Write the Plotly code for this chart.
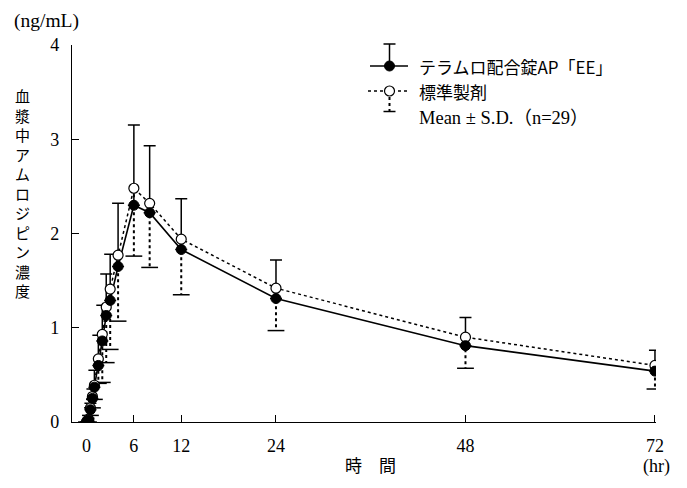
import plotly.graph_objects as go

# ---- data ----
times = [0, 0.25, 0.5, 0.75, 1, 1.5, 2, 2.5, 3, 4, 6, 8, 12, 24, 48, 72]
test_mean = [0, 0.02, 0.13, 0.25, 0.37, 0.60, 0.86, 1.13, 1.29, 1.65, 2.30, 2.22, 1.83, 1.31, 0.81, 0.54]
test_sd = [0, 0.02, 0.07, 0.10, 0.18, 0.32, 0.38, 0.44, 0.49, 0.67, 0.85, 0.71, 0.54, 0.41, 0.30, 0.22]
ref_mean = [0, 0.03, 0.15, 0.27, 0.39, 0.67, 0.93, 1.22, 1.41, 1.77, 2.48, 2.32, 1.94, 1.42, 0.90, 0.60]
ref_sd = [0, 0.03, 0.08, 0.12, 0.15, 0.26, 0.51, 0.59, 0.64, 0.70, 0.72, 0.68, 0.59, 0.45, 0.33, 0.25]

x_ticks = [0, 6, 12, 24, 48, 72]
y_ticks = [0, 1, 2, 3, 4]

name_test = "テラムロ配合錠AP「EE」"
name_ref = "標準製剤"
stats_note = "Mean ± S.D.（n=29）"
y_title = "血漿中アムロジピン濃度"
x_title = "時　間"
y_unit = "(ng/mL)"
x_unit = "(hr)"

FONT = "Liberation Serif, Noto Sans CJK JP, serif"
JP = "Noto Sans CJK JP, Liberation Serif"

# The page body has an 8px margin, so the figure is drawn 8px in from the
# top-left corner; px()/py() take reference-page pixel coordinates.
OFF = 8
W, H = 687 - 2 * OFF, 488 - 2 * OFF
ML, MT = 72 - OFF, 45 - OFF
PW, PH = 584, 377
MR = W - ML - PW
MB = H - MT - PH


def px(xp):
    return (xp - OFF - ML) / PW


def py(yp):
    return (MT + PH - (yp - OFF)) / PH


fig = go.Figure()

# reference product: dotted line
fig.add_trace(go.Scatter(
    x=times, y=ref_mean, mode="lines",
    line=dict(color="black", width=1.5, dash="dot"),
    hoverinfo="skip", showlegend=False))

# dotted lower error bars for reference product
ex, ey = [], []
for t, m, s in zip(times, ref_mean, ref_sd):
    ex += [t, t, None]
    ey += [m, m - s, None]
fig.add_trace(go.Scatter(
    x=ex, y=ey, mode="lines",
    line=dict(color="black", width=2, dash="dot"),
    hoverinfo="skip", showlegend=False))
fig.add_trace(go.Scatter(
    x=times, y=[m - s for m, s in zip(ref_mean, ref_sd)], mode="markers",
    marker=dict(symbol="line-ew", size=12, line=dict(color="black", width=1.5)),
    hoverinfo="skip", showlegend=False))

# test product: solid line with upper error bars
fig.add_trace(go.Scatter(
    x=times, y=test_mean, mode="lines",
    line=dict(color="black", width=1.6),
    error_y=dict(type="data", symmetric=False, array=test_sd,
                 arrayminus=[0] * len(test_sd), color="black",
                 thickness=1.5, width=6),
    hoverinfo="skip", showlegend=False))

fig.add_trace(go.Scatter(
    x=times, y=ref_mean, mode="markers",
    marker=dict(symbol="circle", size=10, color="white",
                line=dict(color="black", width=1.2)),
    hoverinfo="skip", showlegend=False))

fig.add_trace(go.Scatter(
    x=times, y=test_mean, mode="markers",
    marker=dict(symbol="circle", size=10, color="black",
                line=dict(color="black", width=1)),
    hoverinfo="skip", showlegend=False))

# ---- custom legend ----
shapes = []
lx0, lx1, lcx = 370, 408, 389.5
y1, y2 = 66, 91
shapes.append(dict(type="line", xref="paper", yref="paper",
                   x0=px(lx0), x1=px(lx1), y0=py(y1), y1=py(y1),
                   line=dict(color="black", width=1.6)))
shapes.append(dict(type="line", xref="paper", yref="paper",
                   x0=px(lcx), x1=px(lcx), y0=py(y1), y1=py(44),
                   line=dict(color="black", width=1.5)))
shapes.append(dict(type="line", xref="paper", yref="paper",
                   x0=px(lcx - 6), x1=px(lcx + 6), y0=py(44), y1=py(44),
                   line=dict(color="black", width=1.5)))
shapes.append(dict(type="circle", xref="paper", yref="paper",
                   xsizemode="pixel", ysizemode="pixel",
                   xanchor=px(lcx), yanchor=py(y1),
                   x0=-5, x1=5, y0=-5, y1=5,
                   fillcolor="black", line=dict(color="black", width=1)))
shapes.append(dict(type="line", xref="paper", yref="paper",
                   x0=px(lx0 - 2), x1=px(lx1), y0=py(y2), y1=py(y2),
                   line=dict(color="black", width=1.5, dash="dot")))
shapes.append(dict(type="line", xref="paper", yref="paper",
                   x0=px(lcx), x1=px(lcx), y0=py(y2), y1=py(111.5),
                   line=dict(color="black", width=2, dash="dot")))
shapes.append(dict(type="line", xref="paper", yref="paper",
                   x0=px(lcx - 6), x1=px(lcx + 6), y0=py(111.5), y1=py(111.5),
                   line=dict(color="black", width=1.5)))
shapes.append(dict(type="circle", xref="paper", yref="paper",
                   xsizemode="pixel", ysizemode="pixel",
                   xanchor=px(lcx), yanchor=py(y2),
                   x0=-5, x1=5, y0=-5, y1=5,
                   fillcolor="white", line=dict(color="black", width=1.2)))

annotations = [
    dict(text=name_test, x=px(417), y=py(y1), xanchor="left", yanchor="middle",
         font=dict(family=JP, size=17, color="black")),
    dict(text=name_ref, x=px(417), y=py(y2), xanchor="left", yanchor="middle",
         font=dict(family=JP, size=17, color="black")),
    dict(text=stats_note, x=px(417), y=py(118), xanchor="left", yanchor="middle",
         font=dict(family=FONT, size=18.5, color="black")),
    dict(text=y_unit, x=px(12), y=py(21), xanchor="left", yanchor="middle",
         font=dict(family=FONT, size=19.5, color="black")),
    dict(text="<br>".join(list(y_title)), x=px(22), y=py(193), xanchor="center",
         yanchor="middle", align="center",
         font=dict(family=JP, size=15, color="black")),
    dict(text=x_title, x=px(370), y=py(479), xanchor="center", yanchor="bottom",
         font=dict(family=JP, size=17, color="black")),
    dict(text=x_unit, x=px(656), y=py(479), xanchor="center", yanchor="bottom",
         font=dict(family=FONT, size=18, color="black")),
]
for a in annotations:
    a.update(xref="paper", yref="paper", showarrow=False)

fig.update_layout(
    width=W, height=H,
    margin=dict(l=ML, r=MR, t=MT, b=MB, pad=0),
    paper_bgcolor="white", plot_bgcolor="white",
    font=dict(family=FONT, size=18, color="black"),
    shapes=shapes, annotations=annotations,
    showlegend=False,
)
fig.update_xaxes(
    range=[-1.836, 72.13], tickvals=x_ticks, ticktext=[str(v) for v in x_ticks],
    ticks="inside", ticklen=7, tickwidth=1.2, tickcolor="black",
    showline=True, linecolor="black", linewidth=1.3, mirror=False,
    showgrid=False, zeroline=False, ticklabelstandoff=7,
    tickfont=dict(family=FONT, size=18, color="black"),
)
fig.update_yaxes(
    range=[0, 4], tickvals=y_ticks, ticktext=[str(v) for v in y_ticks],
    ticks="inside", ticklen=7, tickwidth=1.2, tickcolor="black",
    showline=True, linecolor="black", linewidth=1.3, mirror=False,
    showgrid=False, zeroline=False, ticklabelstandoff=8,
    tickfont=dict(family=FONT, size=18, color="black"),
)

fig.write_html("out.html")
